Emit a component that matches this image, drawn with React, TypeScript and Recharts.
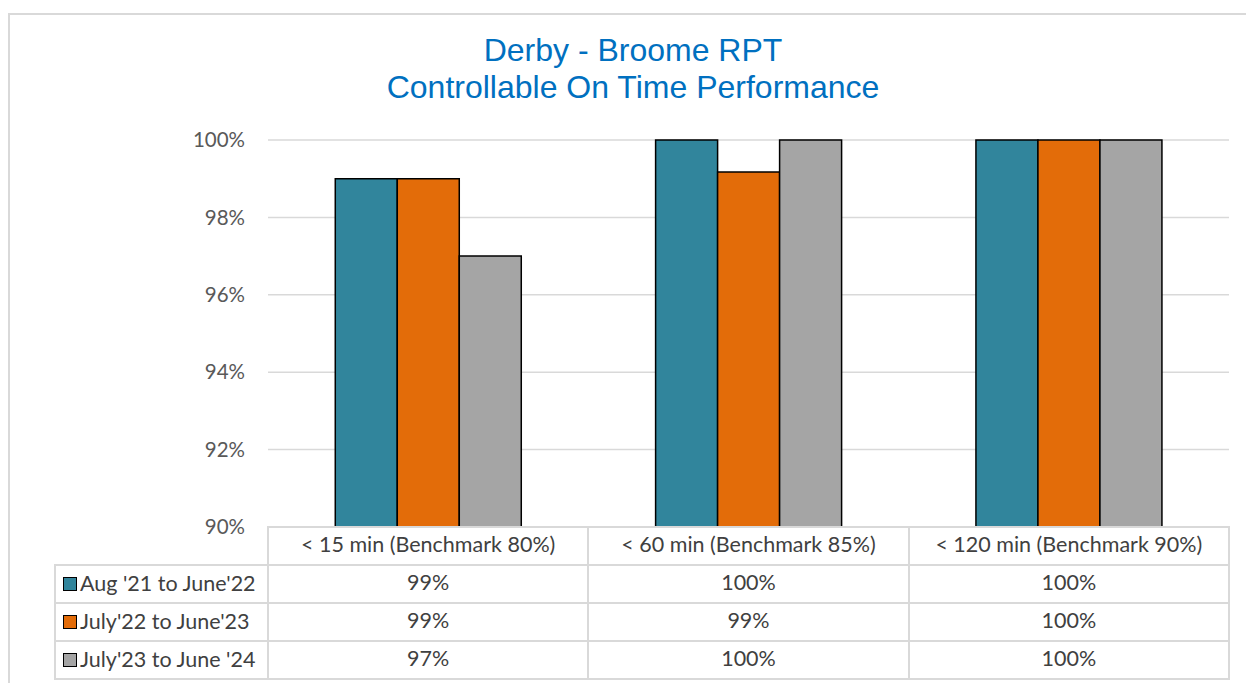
import { BarChart, Bar, XAxis, YAxis, CartesianGrid } from 'recharts'

const categories = ['< 15 min (Benchmark 80%)', '< 60 min (Benchmark 85%)', '< 120 min (Benchmark 90%)']
const seriesNames = ["Aug '21 to June'22", "July'22 to June'23", "July'23 to June '24"]
const aug21 = [99, 100, 100]
const jul22 = [99, 99.17, 100]
const jul23 = [97, 100, 100]
const yTicks = [90, 92, 94, 96, 98, 100]

const COLORS = ['#31859C', '#E36C09', '#A5A5A5']
const FONT = 'Lato, "Open Sans", sans-serif'
const GRID = '#d9d9d9'

const W = 1246
const H = 683
const PLOT_L = 268
const PLOT_R = 1229
const PLOT_T = 140
const PLOT_B = 527
const ROW_H = 38

const data = categories.map((c, i) => ({ name: c, s0: aug21[i], s1: jul22[i], s2: jul23[i] }))
const seriesValues = [aug21, jul22, jul23]

function DataTable() {
  const colW = (PLOT_R - PLOT_L) / categories.length
  const cells: JSX.Element[] = []
  const cellStyle = {
    position: 'absolute' as const,
    boxSizing: 'border-box' as const,
    border: `2px solid ${GRID}`,
    display: 'flex',
    alignItems: 'center',
    fontFamily: FONT,
    fontSize: 21.5,
    color: '#404040',
  }
  // header row (category names are drawn by the x axis)
  categories.forEach((_, i) => {
    cells.push(
      <div key={`h${i}`} style={{ ...cellStyle, left: PLOT_L + i * colW - 1, top: PLOT_B - 1, width: colW + 2, height: ROW_H + 2 }} />
    )
  })
  seriesNames.forEach((s, r) => {
    const top = PLOT_B + ROW_H * (r + 1) - 1
    cells.push(
      <div key={`l${r}`} style={{ ...cellStyle, left: 54, top, width: PLOT_L - 54 + 1, height: ROW_H + 2, paddingLeft: 7, paddingBottom: 2 }}>
        <span style={{ width: 12, height: 12, border: '1.5px solid #000', background: COLORS[r], marginRight: 3, marginTop: 2, flexShrink: 0 }} />
        <span style={{ whiteSpace: 'nowrap' }}>{s}</span>
      </div>
    )
    seriesValues[r].forEach((v, i) => {
      cells.push(
        <div key={`c${r}-${i}`} style={{ ...cellStyle, left: PLOT_L + i * colW - 1, top, width: colW + 2, height: ROW_H + 2, justifyContent: 'center', paddingBottom: 4 }}>
          {Math.round(v)}%
        </div>
      )
    })
  })
  return <>{cells}</>
}

export default function App() {
  return (
    <div style={{ position: 'absolute', left: 0, top: 0, width: W, height: H, overflow: 'hidden', background: '#fff' }}>
      <div style={{ position: 'absolute', left: 8, top: 13, width: 1260, height: 720, border: `2px solid ${GRID}`, boxSizing: 'border-box' }} />
      <div
        style={{
          position: 'absolute',
          left: 8,
          width: 1250,
          top: 32,
          textAlign: 'center',
          fontFamily: '"Liberation Sans", Arial, sans-serif',
          fontSize: 32,
          lineHeight: '37px',
          color: '#0070C0',
        }}
      >
        Derby - Broome RPT
        <br />
        Controllable On Time Performance
      </div>
      <BarChart
        width={W}
        height={H}
        data={data}
        margin={{ top: PLOT_T, right: W - PLOT_R, bottom: H - PLOT_B - 40, left: PLOT_L - 80 }}
        barCategoryGap="21%"
        barGap={0}
        style={{ position: 'absolute', left: 0, top: 0 }}
      >
        <CartesianGrid horizontal vertical={false} stroke={GRID} strokeWidth={1.5} />
        <XAxis
          dataKey="name"
          height={40}
          axisLine={false}
          tickLine={false}
          tickSize={0}
          tickMargin={10}
          tick={{ fontFamily: FONT, fontSize: 21.5, fill: '#404040' }}
        />
        <YAxis
          width={80}
          domain={[90, 100]}
          ticks={yTicks}
          axisLine={false}
          tickLine={false}
          tickSize={0}
          tickMargin={23}
          tickFormatter={(v: number) => `${v}%`}
          tick={{ fontFamily: FONT, fontSize: 20.5, fill: '#595959' }}
        />
        {seriesNames.map((s, i) => (
          <Bar key={s} dataKey={`s${i}`} name={s} fill={COLORS[i]} stroke="#000" strokeWidth={1.5} isAnimationActive={false} />
        ))}
      </BarChart>
      <DataTable />
    </div>
  )
}
